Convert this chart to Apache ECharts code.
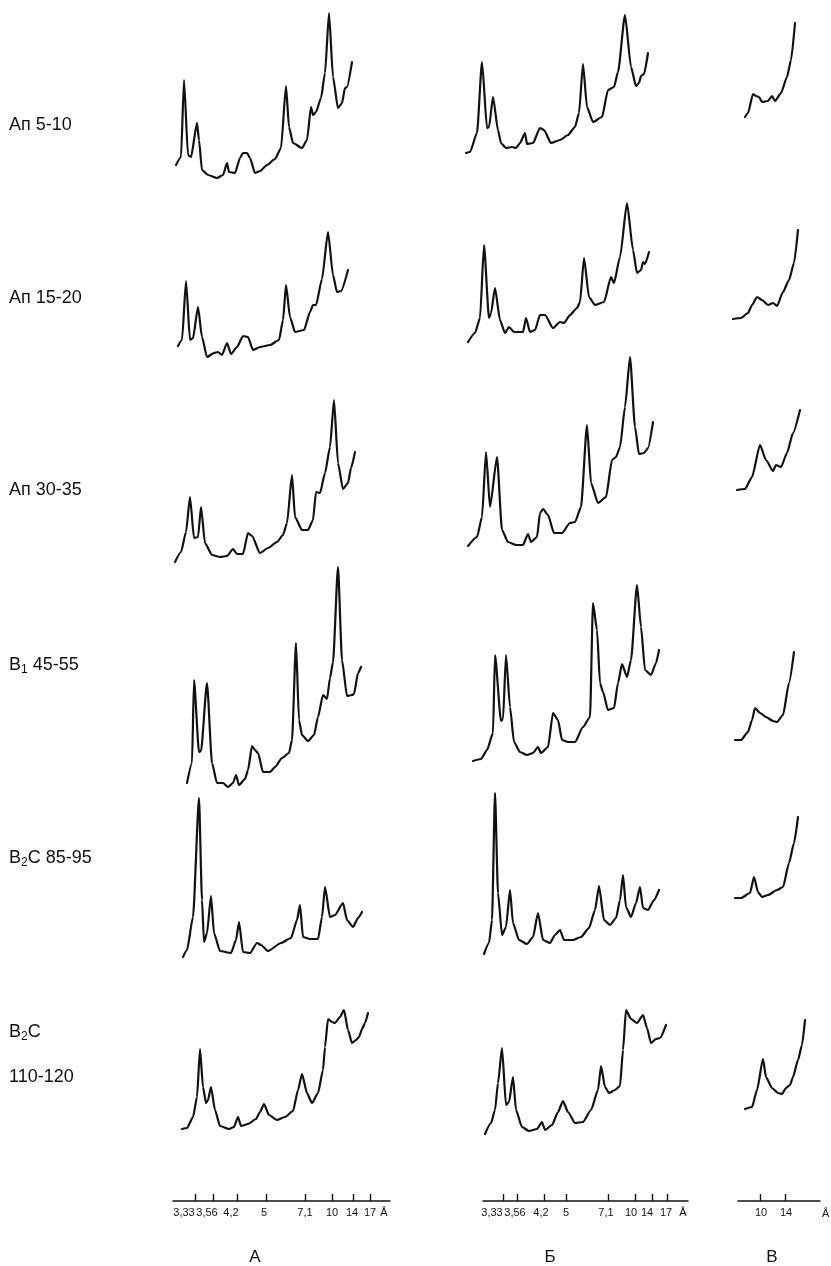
<!DOCTYPE html>
<html>
<head>
<meta charset="utf-8">
<script src="https://cdn.jsdelivr.net/npm/echarts@6/dist/echarts.min.js"></script>
<style>
html,body{margin:0;padding:0;background:#fff;}
#chart{width:831px;height:1266px;}
</style>
</head>
<body>
<div id="chart"></div>
<script>
// ---- sample (row) labels ----
const sampleLabels = ['{n|Ап 5-10}', '{n|Ап 15-20}', '{n|Ап 30-35}', '{n|B}{s|1}{n| 45-55}', '{n|B}{s|2}{n|C 85-95}', '{n|B}{s|2}{n|C}', '{n|110-120}'];
const columnLetters = ['А', 'Б', 'В'];

// ---- bottom scale: tick positions, label positions and texts ----
const ticksA = [22.7, 40.3, 64.7, 93, 132, 159.3, 180.3, 197.7];
const labelPosA = [11, 34, 58, 91, 132, 159, 179, 197, 211];
const labelTextA = ['3,33', '3,56', '4,2', '5', '7,1', '10', '14', '17', 'Å'];
const ticksB = [20.3, 34.7, 61, 83, 125.7, 152.7, 169.3, 184.3];
const labelPosB = [9, 32, 58, 83, 123, 148, 164, 183, 200];
const labelTextB = ['3,33', '3,56', '4,2', '5', '7,1', '10', '14', '17', 'Å'];
const ticksV = [22, 47.7];
const labelPosV = [23, 48];
const labelTextV = ['10', '14'];

// ---- diffractograms: [position, intensity] ----
// Row 1: Ап 5-10
const ap5_A = [[3,15],[8,23],[11,100],[15,25],[18,23],[24,57],[26,40],[29,10],[35,5],[44,2],[50,5],[54,17],[56,8],[62,7],[67,22],[70,27],[74,27],[77,22],[82,7],[87,9],[94,15],[102,21],[108,32],[113,94],[116,53],[120,37],[129,32],[134,40],[138,73],[140,65],[143,68],[148,82],[152,107],[156,167],[160,103],[165,72],[169,77],[172,92],[174,93],[179,118]];
const ap5_B = [[-17,27],[-13,28],[-6,47],[-1,118],[4,52],[6,53],[10,83],[15,50],[18,37],[23,32],[29,33],[33,32],[37,37],[42,47],[44,36],[50,37],[57,52],[61,50],[68,37],[77,40],[85,45],[92,53],[96,67],[100,116],[104,73],[110,58],[119,63],[125,90],[131,93],[135,108],[142,165],[148,113],[153,94],[156,97],[158,104],[161,106],[165,127]];
const ap5_V = [[7,63],[10,67],[15,86],[18,84],[21,83],[24,78],[30,79],[34,84],[37,79],[43,87],[49,103],[53,120],[57,157]];
// Row 2: Ап 15-20
const ap15_A = [[5,14],[9,20],[13,79],[17,20],[20,22],[25,53],[29,23],[34,3],[41,7],[45,8],[49,5],[54,17],[58,6],[64,13],[70,24],[75,23],[80,10],[87,13],[97,15],[106,20],[110,40],[113,75],[117,43],[122,28],[131,30],[137,48],[140,55],[143,55],[149,81],[155,128],[160,85],[164,68],[168,69],[175,90]];
const ap15_B = [[-15,18],[-8,27],[-3,42],[1,115],[6,42],[8,47],[12,72],[17,40],[22,27],[26,33],[31,28],[40,28],[43,42],[47,28],[52,30],[57,45],[62,45],[70,32],[77,38],[81,37],[87,45],[94,52],[97,58],[101,102],[106,63],[112,55],[121,58],[128,83],[131,77],[137,103],[144,157],[150,110],[154,87],[158,90],[160,98],[162,96],[166,108]];
const ap15_V = [[-5,41],[3,42],[10,47],[14,55],[19,63],[24,60],[30,55],[35,57],[39,54],[45,68],[51,80],[56,97],[60,130]];
// Row 3: Ап 30-35
const ap30_A = [[2,3],[8,13],[13,33],[17,68],[21,27],[25,28],[28,58],[32,22],[39,10],[47,8],[54,9],[60,16],[64,11],[70,11],[75,32],[79,29],[87,12],[95,17],[104,23],[110,30],[114,42],[119,90],[122,48],[129,35],[135,35],[140,45],[143,73],[147,72],[152,92],[157,118],[161,165],[165,102],[170,76],[175,82],[178,97],[182,113]];
const ap30_B = [[-15,19],[-6,28],[-1,48],[3,113],[7,58],[14,108],[19,35],[25,23],[33,20],[40,20],[45,31],[48,23],[54,28],[57,52],[60,56],[65,50],[71,32],[79,32],[87,42],[92,43],[98,58],[104,140],[108,82],[115,62],[123,68],[129,105],[133,108],[137,118],[142,158],[147,208],[152,138],[156,111],[161,112],[165,117],[170,143]];
const ap30_V = [[-1,75],[7,76],[14,88],[22,120],[28,105],[35,94],[38,100],[43,98],[49,112],[55,132],[62,155]];
// Row 4: B1 45-55
const b1_A = [[14,7],[19,27],[21,110],[26,38],[28,39],[34,107],[39,27],[44,7],[50,7],[55,3],[60,7],[63,15],[66,5],[72,11],[75,20],[79,44],[82,40],[85,37],[90,18],[97,18],[102,23],[109,32],[116,37],[119,50],[123,147],[126,70],[129,55],[135,49],[141,55],[145,73],[150,95],[154,91],[157,112],[160,128],[165,223],[169,130],[174,94],[179,95],[181,96],[185,117],[188,123]];
const b1_B = [[-10,29],[-2,31],[4,40],[10,57],[12,135],[18,69],[20,71],[23,135],[27,83],[31,48],[37,38],[44,35],[50,37],[55,43],[58,37],[65,43],[70,77],[75,70],[79,50],[85,48],[92,48],[100,63],[107,73],[110,187],[114,160],[117,107],[120,98],[125,80],[131,82],[135,107],[139,126],[144,113],[148,130],[154,205],[158,163],[162,120],[168,115],[173,127],[176,140]];
const b1_V = [[-3,50],[3,50],[10,58],[14,70],[17,82],[22,77],[28,73],[35,69],[39,68],[45,75],[51,107],[56,138]];
// Row 5: B2C 85-95
const b2c85_A = [[10,3],[14,10],[20,43],[26,162],[29,60],[31,18],[34,27],[38,64],[41,27],[47,9],[58,7],[63,20],[66,38],[70,8],[77,7],[84,17],[88,15],[95,9],[108,17],[118,22],[124,40],[127,55],[130,23],[137,21],[145,21],[149,43],[152,73],[157,43],[162,45],[170,57],[174,40],[180,33],[185,42],[189,48]];
const b2c85_B = [[1,6],[6,17],[9,40],[12,167],[15,67],[19,25],[23,33],[27,70],[30,37],[36,20],[44,16],[50,23],[55,47],[60,20],[67,17],[72,25],[77,30],[81,20],[90,20],[98,23],[106,32],[112,50],[116,74],[121,40],[127,35],[133,42],[137,60],[140,85],[143,53],[148,43],[153,57],[157,73],[160,52],[165,50],[171,60],[176,70]];
const b2c85_V = [[-3,62],[3,62],[12,67],[16,83],[20,68],[24,63],[30,65],[39,70],[45,73],[51,97],[56,117],[60,143]];
// Row 6: B2C 110-120
const b2c110_A = [[9,11],[14,12],[20,23],[24,43],[27,91],[30,53],[33,37],[35,40],[38,53],[42,30],[47,14],[56,11],[61,13],[65,23],[68,14],[75,16],[83,21],[87,28],[91,36],[96,25],[104,20],[112,23],[120,29],[125,50],[129,66],[134,47],[139,37],[145,47],[150,70],[152,93],[155,121],[159,118],[162,117],[167,123],[171,130],[175,110],[179,97],[183,100],[186,103],[189,111],[192,117],[195,127]];
const b2c110_B = [[2,6],[8,17],[12,30],[15,57],[19,92],[23,35],[26,38],[30,63],[33,30],[39,13],[46,9],[54,11],[59,18],[62,10],[69,15],[75,28],[80,39],[85,28],[92,17],[100,18],[108,30],[115,50],[118,74],[122,53],[126,47],[132,50],[137,54],[140,90],[143,130],[148,121],[154,117],[160,125],[164,112],[168,97],[173,101],[177,102],[183,115]];
const b2c110_V = [[7,31],[14,33],[19,50],[25,81],[28,63],[34,52],[40,47],[44,46],[48,52],[52,55],[55,63],[60,80],[64,95],[67,120]];

const rowsData = [
  [ap5_A, ap5_B, ap5_V],
  [ap15_A, ap15_B, ap15_V],
  [ap30_A, ap30_B, ap30_V],
  [b1_A, b1_B, b1_V],
  [b2c85_A, b2c85_B, b2c85_V],
  [b2c110_A, b2c110_B, b2c110_V]
];

// ---- layout (pixels) ----
const rowBase = [180, 360, 565, 790, 960, 1140];
const rowHeight = [172, 160, 212, 226, 172, 134];
const colOrigin = [173, 483, 738];
const colMin = [0, -20, -10];
const colMax = [217, 205, 87];
const axisLen = [217, 205, 82];
const labelY = [125, 298, 490, 665, 858, 1032, 1077];
const letterX = [255, 550, 772];

const FONT = 'Arial, "Liberation Sans", "DejaVu Sans", sans-serif';
const INK = '#111111';

const grids = [], xAxes = [], yAxes = [], series = [];
rowsData.forEach((row, r) => {
  row.forEach((data, c) => {
    const gi = grids.length;
    grids.push({
      left: colOrigin[c] + colMin[c],
      top: rowBase[r] - rowHeight[r],
      width: colMax[c] - colMin[c],
      height: rowHeight[r],
      containLabel: false
    });
    xAxes.push({gridIndex: gi, type: 'value', min: colMin[c], max: colMax[c], show: false});
    yAxes.push({gridIndex: gi, type: 'value', min: 0, max: rowHeight[r], show: false});
    series.push({
      type: 'line', xAxisIndex: gi, yAxisIndex: gi, data: data,
      showSymbol: false, smooth: 0.2, smoothMonotone: 'x', silent: true,
      lineStyle: {color: INK, width: 2.2, join: 'round', cap: 'round'}
    });
  });
});

const scaleTicks = [ticksA, ticksB, ticksV];
const scaleLabelPos = [labelPosA, labelPosB, labelPosV];
const scaleLabelText = [labelTextA, labelTextB, labelTextV];
for (let c = 0; c < 3; c++) {
  const gi = grids.length;
  grids.push({left: colOrigin[c], top: 1150, width: axisLen[c], height: 51, containLabel: false});
  const pos = scaleLabelPos[c], txt = scaleLabelText[c];
  xAxes.push({
    gridIndex: gi, type: 'value', min: 0, max: axisLen[c], position: 'bottom',
    name: c === 2 ? 'Å' : '',
    nameLocation: 'end', nameGap: 2,
    nameTextStyle: {fontFamily: FONT, fontSize: 11, color: INK, verticalAlign: 'top', padding: [7, 0, 0, 0]},
    axisLine: {show: true, onZero: false, lineStyle: {color: INK, width: 1.5}},
    axisTick: {show: true, inside: true, length: 7, customValues: scaleTicks[c], lineStyle: {color: INK, width: 1.4}},
    axisLabel: {
      show: true, margin: 6, customValues: pos,
      fontFamily: FONT, fontSize: 11, color: INK,
      formatter: function (v) {
        let best = 0, d = Infinity;
        pos.forEach((p, i) => { if (Math.abs(p - v) < d) { d = Math.abs(p - v); best = i; } });
        return txt[best];
      }
    },
    splitLine: {show: false}
  });
  yAxes.push({gridIndex: gi, type: 'value', show: false, min: 0, max: 1});
}

const rich = {
  n: {fontFamily: FONT, fontSize: 18, fill: INK, lineHeight: 22},
  s: {fontFamily: FONT, fontSize: 12, fill: INK, lineHeight: 12, verticalAlign: 'bottom'}
};
const graphics = [];
sampleLabels.forEach((t, i) => {
  graphics.push({
    type: 'text', x: 9, y: labelY[i], silent: true,
    style: {text: t, rich: rich, verticalAlign: 'middle', align: 'left', fill: INK}
  });
});
columnLetters.forEach((t, i) => {
  graphics.push({
    type: 'text', x: letterX[i], y: 1257, silent: true,
    style: {text: t, fontFamily: FONT, fontSize: 17, fill: INK, align: 'center', verticalAlign: 'middle'}
  });
});

const chart = echarts.init(document.getElementById('chart'), null, {renderer: 'canvas'});
chart.setOption({
  backgroundColor: '#ffffff',
  animation: false,
  grid: grids,
  xAxis: xAxes,
  yAxis: yAxes,
  series: series,
  graphic: graphics
});
</script>
</body>
</html>
